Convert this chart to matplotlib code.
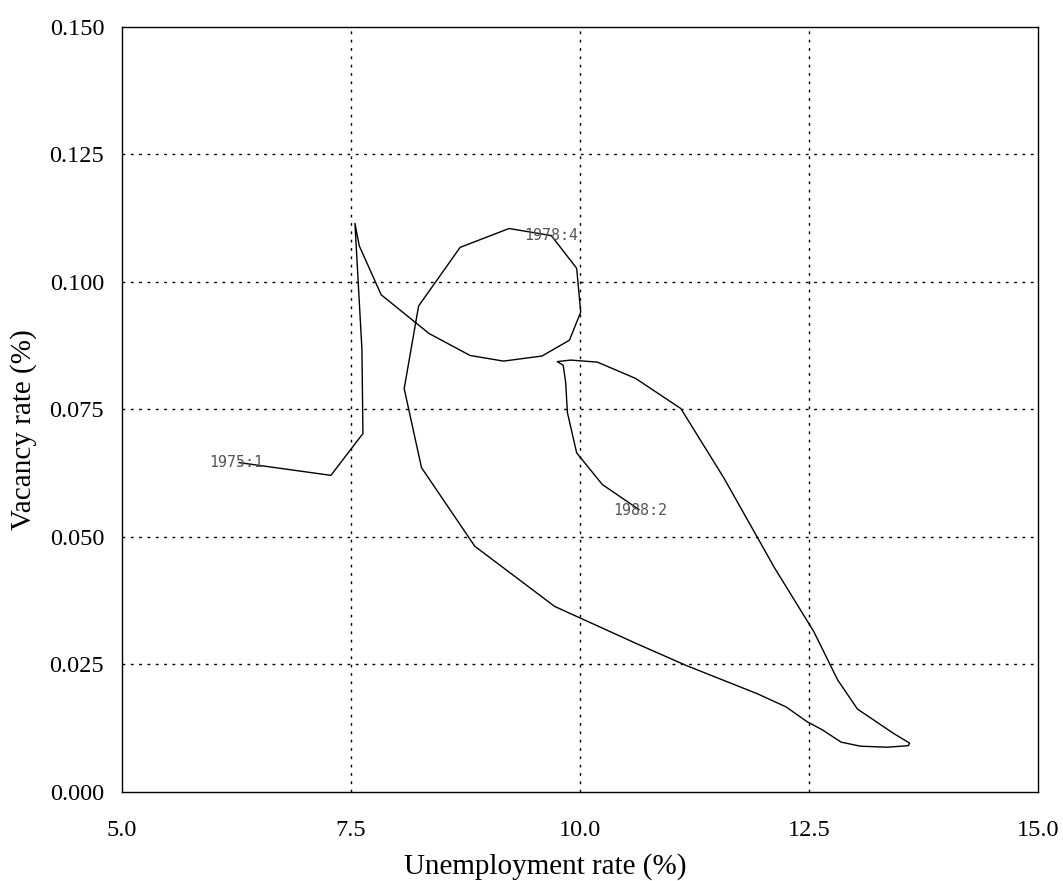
import matplotlib
matplotlib.use('Agg')
import matplotlib.pyplot as plt

plt.rcParams['font.family'] = 'Liberation Serif'

# unemployment rate (%) and vacancy rate (%), 1975:1 -> 1988:2
unemp = [6.282, 7.284, 7.633, 7.622, 7.546, 7.593, 7.832, 8.355, 8.802, 9.166,
         9.586, 9.885, 10.008, 9.964, 9.688, 9.227, 8.693, 8.240, 8.083, 8.272,
         8.853, 9.724, 10.618, 11.162, 11.932, 12.248, 12.477, 12.644, 12.847, 13.058,
         13.349, 13.581, 13.595, 13.420, 13.025, 12.810, 12.549, 12.124, 11.569, 11.100,
         10.607, 10.190, 9.899, 9.752, 9.817, 9.844, 9.863, 9.964, 10.244, 10.643]
vacancy = [0.0645, 0.0620, 0.0702, 0.0867, 0.1114, 0.1070, 0.0974, 0.0898, 0.0855, 0.0844,
           0.0854, 0.0885, 0.0940, 0.1026, 0.1090, 0.1104, 0.1067, 0.0952, 0.0790, 0.0635,
           0.0481, 0.0363, 0.0290, 0.0247, 0.0192, 0.0166, 0.0137, 0.0121, 0.0097, 0.0089,
           0.0087, 0.0090, 0.0095, 0.0114, 0.0162, 0.0219, 0.0314, 0.0438, 0.0615, 0.0751,
           0.0810, 0.0842, 0.0846, 0.0843, 0.0836, 0.0802, 0.0743, 0.0664, 0.0602, 0.0553]

labels = ['1975:1', '1978:4', '1988:2']
label_x = [5.96, 9.39, 10.36]
label_y = [0.0645, 0.1090, 0.0552]

xticks = [5.0, 7.5, 10.0, 12.5, 15.0]
yticks = [0.000, 0.025, 0.050, 0.075, 0.100, 0.125, 0.150]

fig = plt.figure(figsize=(10.63, 8.81), dpi=100)
ax = fig.add_axes([0.1143, 0.1015, 0.8626, 0.8684])

# grid
for gx in xticks[1:-1]:
    ax.axvline(gx, color='black', lw=1, dashes=(2, 4), zorder=1)
for gy in yticks[1:-1]:
    ax.axhline(gy, color='black', lw=1, dashes=(2, 4), zorder=1)

ax.plot(unemp, vacancy, color='black', lw=1, zorder=2)

for s, lx, ly in zip(labels, label_x, label_y):
    ax.text(lx, ly, s, ha='left', va='center', family='DejaVu Sans Mono',
            fontsize=10.8, color='#555555', zorder=3)

ax.set_xlim(5, 15)
ax.set_ylim(0, 0.15)
ax.set_xticks(xticks)
ax.set_yticks(yticks)
ax.set_xticklabels(['%.1f' % v for v in xticks])
ax.set_yticklabels(['%.3f' % v for v in yticks])
ax.tick_params(length=0, labelsize=17.5)
ax.tick_params(axis='y', pad=12.5)
ax.tick_params(axis='x', pad=20.5)
for sp in ax.spines.values():
    sp.set_linewidth(1)

ax.set_xlabel('Unemployment rate (%)', fontsize=21)
ax.set_ylabel('Vacancy rate (%)', fontsize=21)
ax.xaxis.set_label_coords(0.462, -0.0805)
ax.yaxis.set_label_coords(-0.092, 0.4726)

fig.savefig('out.png', dpi=100)
